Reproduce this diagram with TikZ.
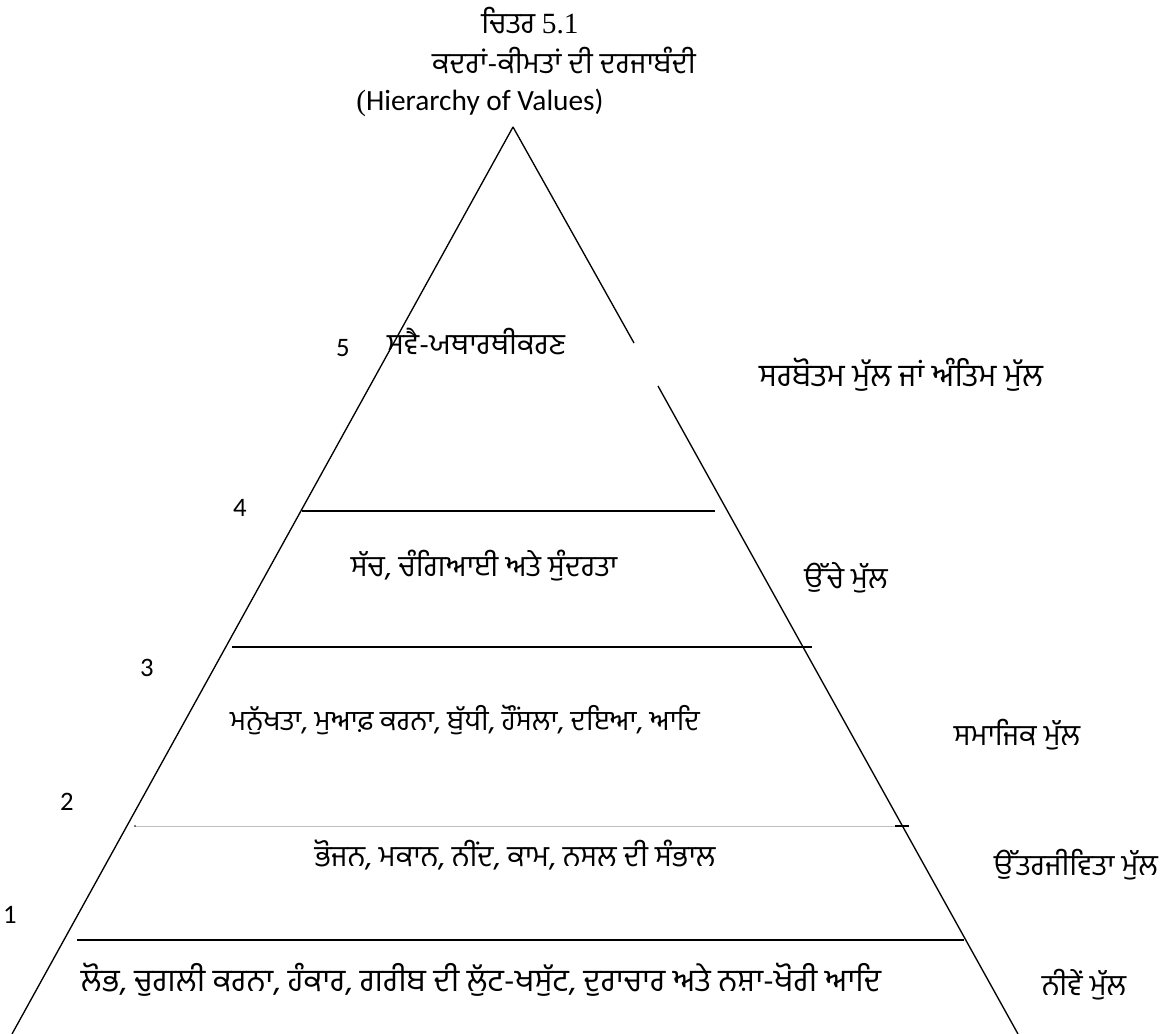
\documentclass[tikz,border=0pt]{standalone}
\usepackage{fontspec}
\setmainfont{Liberation Serif}
\newfontfamily\pafont[Script=Gurmukhi]{Hind Jalandhar}
\newfontfamily\numfont{Carlito}
\tikzset{
  edge/.style={line width=1pt, black},
  faint/.style={line width=0.5pt, black!25},
  patext/.style={font=\pafont\fontsize{22}{26}\selectfont, inner sep=0pt},
  patextsmall/.style={font=\pafont\fontsize{21}{25}\selectfont, inner sep=0pt},
  patextbig/.style={font=\pafont\fontsize{23.5}{27}\selectfont, inner sep=0pt},
  numtext/.style={font=\numfont\fontsize{20}{24}\selectfont, inner sep=0pt},
}
\begin{document}
\begin{tikzpicture}[x=0.75pt,y=-0.75pt]
\useasboundingbox (0,0) rectangle (1165,1034);
% triangle
\coordinate (apex) at (513,127);
\coordinate (bl) at (12,1034);
\coordinate (br) at (1018,1034);
\coordinate (g1) at (634,343);
\coordinate (g2) at (658,386);
\draw[edge] (apex) -- (bl);
\draw[edge] (apex) -- (g1);
\draw[edge] (g2) -- (br);
% level lines
\coordinate (l4a) at (302,511); \coordinate (l4b) at (715,511);
\coordinate (l3a) at (232,647); \coordinate (l3b) at (812,647);
\coordinate (l2a) at (135,826); \coordinate (l2b) at (895,826);
\coordinate (t2a) at (895,826); \coordinate (t2b) at (909,826);
\coordinate (l1a) at (77,940);  \coordinate (l1b) at (964,940);
\draw[edge] (l4a) -- (l4b);
\draw[edge] (l3a) -- (l3b);
\draw[faint] (l2a) -- (l2b);
\draw[edge] (t2a) -- (t2b);
\fill (l2a) circle (0.8);
\draw[edge] (l1a) -- (l1b);
% titles
\node[inner sep=0pt] (title1) at (530,21) {{\pafont\fontsize{22}{26}\selectfont ਚਿਤਰ}\hspace{5pt}{\fontsize{22}{26}\selectfont 5.1}};
\node[patext] (title2) at (564,60) {ਕਦਰਾਂ-ਕੀਮਤਾਂ ਦੀ ਦਰਜਾਬੰਦੀ};
\node[inner sep=0pt] (title3) at (480,103) {{\fontsize{22}{26}\selectfont (}{\numfont\fontsize{22}{26}\selectfont Hierarchy of Values)}};
% numbers
\node[numtext] (n5) at (343,348) {5};
\node[numtext] (n4) at (240,508) {4};
\node[numtext] (n3) at (147,668) {3};
\node[numtext] (n2) at (67,802) {2};
\node[numtext] (n1) at (10,915) {1};
% level contents
\node[patext] (c5) at (476,342) {ਸਵੈ-ਯਥਾਰਥੀਕਰਣ};
\node[patext] (c4) at (484,566) {ਸੱਚ, ਚੰਗਿਆਈ ਅਤੇ ਸੁੰਦਰਤਾ};
\node[patextsmall] (c3) at (465,720) {ਮਨੁੱਖਤਾ, ਮੁਆਫ਼ ਕਰਨਾ, ਬੁੱਧੀ, ਹੌਂਸਲਾ, ਦਇਆ, ਆਦਿ};
\node[patext] (c2) at (515,855) {ਭੋਜਨ, ਮਕਾਨ, ਨੀਂਦ, ਕਾਮ, ਨਸਲ ਦੀ ਸੰਭਾਲ};
\node[patextbig] (c1) at (481,980) {ਲੋਭ, ਚੁਗਲੀ ਕਰਨਾ, ਹੰਕਾਰ, ਗਰੀਬ ਦੀ ਲੁੱਟ-ਖਸੁੱਟ, ਦੁਰਾਚਾਰ ਅਤੇ ਨਸ਼ਾ-ਖੋਰੀ ਆਦਿ};
% side labels
\node[patextbig] (s5) at (901,375) {ਸਰਬੋਤਮ ਮੁੱਲ ਜਾਂ ਅੰਤਿਮ ਮੁੱਲ};
\node[patext] (s4) at (846,578) {ਉੱਚੇ ਮੁੱਲ};
\node[patext] (s3) at (1017,735) {ਸਮਾਜਿਕ ਮੁੱਲ};
\node[patext] (s2) at (1076,865) {ਉੱਤਰਜੀਵਿਤਾ ਮੁੱਲ};
\node[patext] (s1) at (1084,985) {ਨੀਵੇਂ ਮੁੱਲ};
\end{tikzpicture}
\end{document}
